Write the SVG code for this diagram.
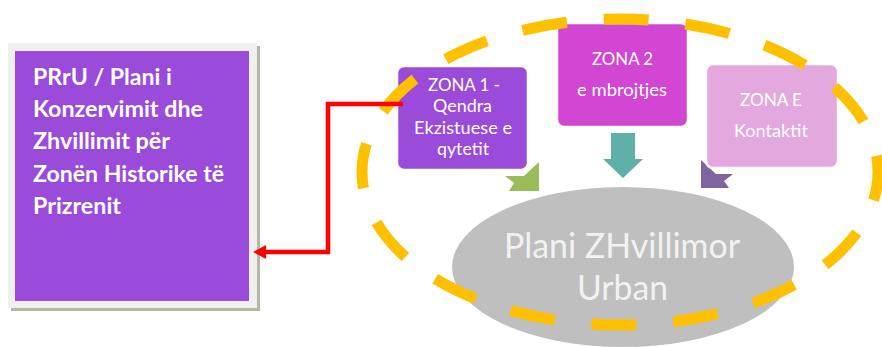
<svg xmlns="http://www.w3.org/2000/svg" width="882" height="347" viewBox="0 0 882 347">
  <style>
    .zone { stroke: #ffffff; stroke-width: 2.5; }
    text { font-family: Lato, "Liberation Sans", sans-serif; }
    .ztxt { font-size: 17px; fill: #ffffff; text-anchor: middle; }
    .ltxt { font-size: 22px; font-weight: bold; fill: #ffffff; }
    .btxt { font-size: 34px; fill: #f2f2f2; text-anchor: middle; }
  </style>
  <defs>
    <marker id="redhead" markerUnits="userSpaceOnUse" markerWidth="14" markerHeight="14" refX="2" refY="7" orient="auto" viewBox="0 0 14 14">
      <path d="M0,0 L13,7 L0,14 z" fill="#ff0000"/>
    </marker>
  </defs>
  <rect width="882" height="347" fill="#ffffff"/>

  <g id="node-prru">
    <rect x="11" y="46" width="249" height="265" fill="#b4b8a4"/>
    <rect x="8" y="43" width="249" height="265" fill="#f0f0f0"/>
    <rect x="15" y="51" width="234" height="250" fill="#9b4bd9"/>
    <text class="ltxt" x="33" y="85" textLength="139" lengthAdjust="spacingAndGlyphs">PRrU / Plani i</text>
    <text class="ltxt" x="33" y="117" textLength="170" lengthAdjust="spacingAndGlyphs">Konzervimit dhe</text>
    <text class="ltxt" x="33" y="149" textLength="137" lengthAdjust="spacingAndGlyphs">Zhvillimit për</text>
    <text class="ltxt" x="33" y="182" textLength="191" lengthAdjust="spacingAndGlyphs">Zonën Historike të</text>
    <text class="ltxt" x="33" y="214" textLength="88" lengthAdjust="spacingAndGlyphs">Prizrenit</text>
  </g>

  <g id="node-urban">
    <ellipse cx="623" cy="267" rx="171" ry="80" fill="#bfbfbf"/>
    <text class="btxt" x="622" y="258" textLength="236" lengthAdjust="spacingAndGlyphs">Plani ZHvillimor</text>
    <text class="btxt" x="622.5" y="300" textLength="91" lengthAdjust="spacingAndGlyphs">Urban</text>
  </g>

  <g id="connectors">
    <polygon points="539,162 524,176 505,176 514,183 509,191 539,191" fill="#9bbb59"/>
    <polygon points="611,133 635,133 635,159 643,159 623,178 603,159 611,159" fill="#5fb0a6"/>
    <polygon points="701,160 716,174 733,174 724,181 729,188 701,188" fill="#8064a2"/>
  </g>

  <g id="node-zona1">
    <rect class="zone" x="397" y="66" width="131" height="104" rx="7" fill="#9b4bd9"/>
    <text class="ztxt" x="464" y="91" textLength="72" lengthAdjust="spacingAndGlyphs">ZONA 1 -</text>
    <text class="ztxt" x="462.5" y="112" textLength="59" lengthAdjust="spacingAndGlyphs">Qendra</text>
    <text class="ztxt" x="463" y="134" textLength="98" lengthAdjust="spacingAndGlyphs">Ekzistuese e</text>
    <text class="ztxt" x="463" y="155" textLength="52" lengthAdjust="spacingAndGlyphs">qytetit</text>
  </g>

  <g id="node-zona2">
    <rect class="zone" x="557" y="23" width="131" height="104" rx="7" fill="#d246d4"/>
    <text class="ztxt" x="622.5" y="65" textLength="61" lengthAdjust="spacingAndGlyphs">ZONA 2</text>
    <text class="ztxt" x="622" y="96" textLength="90" lengthAdjust="spacingAndGlyphs">e mbrojtjes</text>
  </g>

  <g id="node-zonae">
    <rect class="zone" x="706" y="64" width="132" height="104" rx="7" fill="#e3a8de"/>
    <text class="ztxt" x="771" y="106" textLength="62" lengthAdjust="spacingAndGlyphs">ZONA E</text>
    <text class="ztxt" x="771" y="137" textLength="74" lengthAdjust="spacingAndGlyphs">Kontaktit</text>
  </g>

  <g id="zone-boundary">
    <path d="M362,172 A258,153 0 0 1 878,172 A258,153 0 0 1 362,172 Z" fill="none" stroke="#ffc000" stroke-width="11" pathLength="1600" stroke-dasharray="55 45" stroke-dashoffset="20"/>
  </g>

  <g id="connector-red">
    <path d="M403,104 H328 V252 H264" fill="none" stroke="#ff0000" stroke-width="4.5" marker-end="url(#redhead)"/>
  </g>
</svg>
